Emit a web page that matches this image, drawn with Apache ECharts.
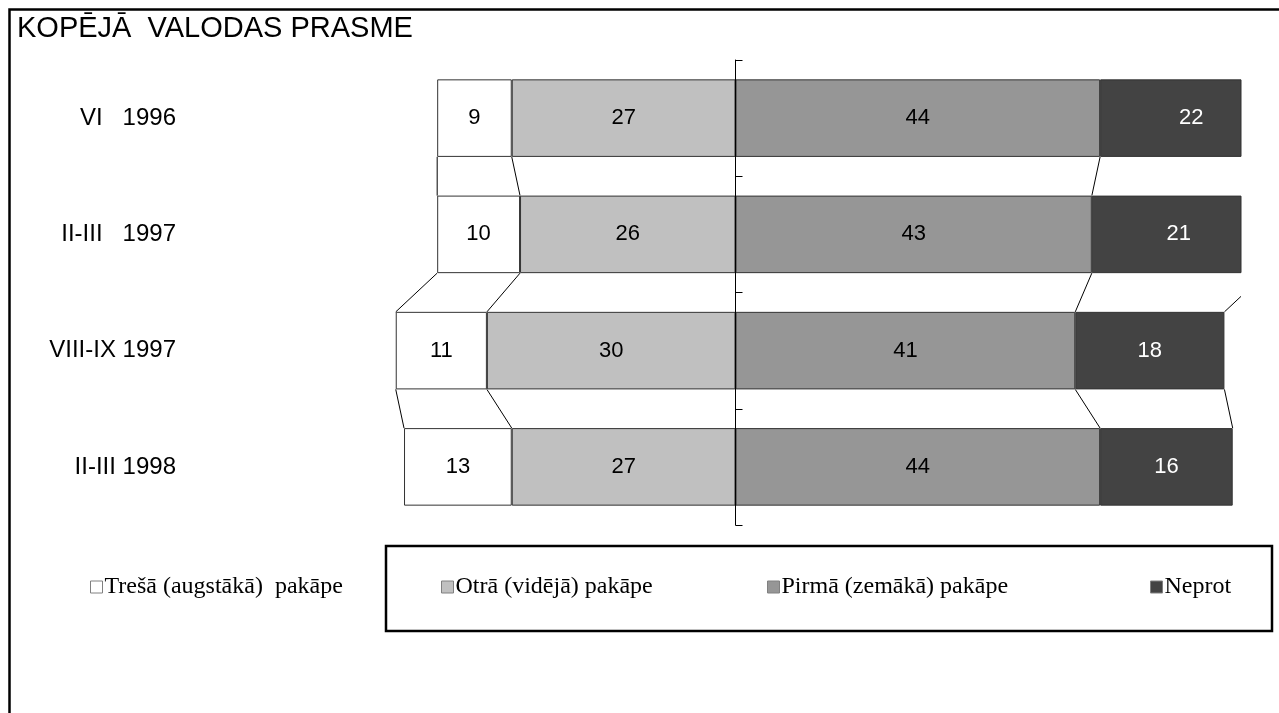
<!DOCTYPE html>
<html>
<head>
<meta charset="utf-8">
<script src="https://cdn.jsdelivr.net/npm/echarts@6/dist/echarts.min.js"></script>
<style>
  html, body { margin: 0; padding: 0; background: #fff; }
  #chart { width: 1279px; height: 713px; }
</style>
</head>
<body>
<div id="chart"></div>
<script>
// Survey waves (top to bottom)
const categories = ['VI   1996', 'II-III   1997', 'VIII-IX 1997', 'II-III 1998'];
// Shares per language-proficiency level, %
const tresa  = [9, 10, 11, 13];   // Trešā (augstākā) pakāpe
const otra   = [27, 26, 30, 27];  // Otrā (vidējā) pakāpe
const pirma  = [44, 43, 41, 44];  // Pirmā (zemākā) pakāpe
const neprot = [22, 21, 18, 16];  // Neprot

const names = ['Trešā (augstākā)  pakāpe', 'Otrā (vidējā) pakāpe', 'Pirmā (zemākā) pakāpe', 'Neprot'];
const colors = ['#ffffff', '#c0c0c0', '#969696', '#434343'];

const SANS = '"Liberation Sans", Arial, sans-serif';
const SERIF = '"Liberation Serif", "Times New Roman", serif';

// segment edges of one row along the value axis
function edges(i) {
  return [-(tresa[i] + otra[i]), -otra[i], pirma[i], pirma[i] + neprot[i]];
}

const chart = echarts.init(document.getElementById('chart'), null, { renderer: 'canvas' });

const barLabel = {
  show: true,
  position: 'inside',
  fontFamily: SANS,
  fontSize: 22,
  color: '#000',
  formatter: p => Math.abs(p.value)
};
const barBorder = { borderColor: '#333', borderWidth: 1 };

function legendFor(name, left) {
  return {
    data: [name],
    left: left,
    top: 575,
    padding: 0,
    icon: 'rect',
    itemWidth: 12,
    itemHeight: 12,
    itemGap: 0,
    itemStyle: { borderColor: '#808080', borderWidth: 1 },
    textStyle: { fontFamily: SERIF, fontSize: 24, color: '#000', padding: [0, 0, 0, -3] },
    selectedMode: false
  };
}

const option = {
  animation: false,
  backgroundColor: '#fff',
  title: {
    text: 'KOPĒJĀ  VALODAS PRASME',
    left: 17,
    top: 14,
    padding: 0,
    textStyle: { fontFamily: SANS, fontSize: 29, fontWeight: 'normal', color: '#000' }
  },
  legend: [
    legendFor(names[0], 90),
    legendFor(names[1], 441),
    legendFor(names[2], 767),
    legendFor(names[3], 1150)
  ],
  grid: { left: 230, right: 38, top: 60, bottom: 188, containLabel: false },
  xAxis: {
    type: 'value',
    min: -61,
    max: 61,
    show: false
  },
  yAxis: [
    {
      type: 'category',
      data: categories,
      inverse: true,
      z: 10,
      axisLine: { show: true, onZero: true, lineStyle: { color: '#000', width: 1 } },
      axisTick: { show: true, inside: true, length: 7, lineStyle: { color: '#000', width: 1 } },
      axisLabel: { show: false },
      splitLine: { show: false }
    },
    {
      type: 'category',
      data: categories,
      inverse: true,
      position: 'left',
      axisLine: { show: false },
      axisTick: { show: false },
      axisLabel: { show: true, margin: 54, fontFamily: SANS, fontSize: 24, color: '#000' },
      splitLine: { show: false }
    }
  ],
  series: [
    {
      name: names[1], type: 'bar', stack: 'total', barCategoryGap: '33.3%',
      data: otra.map(v => -v),
      itemStyle: Object.assign({ color: colors[1] }, barBorder),
      label: barLabel
    },
    {
      name: names[0], type: 'bar', stack: 'total',
      data: tresa.map(v => -v),
      itemStyle: Object.assign({ color: colors[0] }, barBorder),
      label: barLabel
    },
    {
      name: names[2], type: 'bar', stack: 'total',
      data: pirma,
      itemStyle: Object.assign({ color: colors[2] }, barBorder),
      label: barLabel
    },
    {
      name: names[3], type: 'bar', stack: 'total',
      data: neprot,
      itemStyle: Object.assign({ color: colors[3] }, barBorder),
      label: { show: false }
    },
    {
      // series lines joining segment edges of consecutive rows
      type: 'custom',
      clip: true,
      silent: true,
      z: 5,
      data: categories.slice(1).map((c, i) => [0, i]),
      renderItem: function (params, api) {
        const i = params.dataIndex;
        const band = api.size([0, 1])[1];
        const half = band / 1.5 / 2;
        const a = edges(i), b = edges(i + 1);
        return {
          type: 'group',
          children: a.map((v, k) => {
            const p1 = api.coord([v, i]);
            const p2 = api.coord([b[k], i + 1]);
            return {
              type: 'line',
              shape: { x1: p1[0], y1: p1[1] + half, x2: p2[0], y2: p2[1] - half },
              style: { stroke: '#000', lineWidth: 1 }
            };
          })
        };
      }
    },
    {
      // value labels of the last segment, centred on the full segment
      type: 'custom',
      clip: false,
      silent: true,
      z: 6,
      data: neprot.map((v, i) => [pirma[i] + v / 2, i, v]),
      renderItem: function (params, api) {
        const p = api.coord([api.value(0), api.value(1)]);
        return {
          type: 'text',
          x: p[0],
          y: p[1],
          style: {
            text: String(api.value(2)),
            fill: '#fff',
            font: '22px ' + SANS,
            align: 'center',
            verticalAlign: 'middle'
          }
        };
      }
    }
  ],
  graphic: [
    {
      type: 'rect',
      silent: true,
      shape: { x: 9.5, y: 9.5, width: 1300, height: 720 },
      style: { fill: 'none', stroke: '#000', lineWidth: 2.5 }
    },
    {
      type: 'rect',
      silent: true,
      shape: { x: 386, y: 546, width: 886, height: 85 },
      style: { fill: 'none', stroke: '#000', lineWidth: 2.5 }
    }
  ]
};

chart.setOption(option);
</script>
</body>
</html>
